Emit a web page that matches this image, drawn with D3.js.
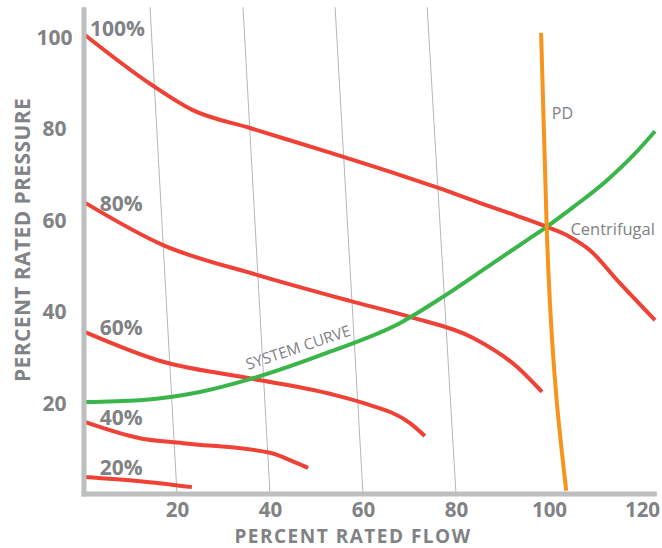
<!DOCTYPE html>
<html>
<head>
  <title>Pump curves</title>
  <script src="https://d3js.org/d3.v7.min.js"></script>
  <style>
    body { margin: 0; background: #fff; }
    text { font-family: "Open Sans", sans-serif; fill: #808285; }
  </style>
</head>
<body>
  <svg width="662" height="548"></svg>
  <script>
  // values (percent rated flow, percent rated pressure)
  var xTicks = [20, 40, 60, 80, 100, 120];
  var yTicks = [20, 40, 60, 80, 100];

  // slanted guide lines: flow at the bottom and at the top of the plot
  var guideBottom = [20, 40, 60, 80];
  var guideTop = [14.2, 34.2, 54, 73.8];

  var speed100 = [[0, 100.5], [14.6, 89.4], [23.4, 83.9], [35.7, 80], [52.9, 74.6], [68, 69.7],
                  [75.9, 67], [85.2, 63.6], [93.1, 60.8], [99.5, 58.4], [104.5, 56.2], [108.8, 53.3],
                  [114.6, 46.8], [122.8, 38]];
  var speed80 = [[0, 63.8], [17, 54.4], [37.2, 47.9], [57.2, 42.2], [70.1, 38.7], [83.7, 34.1],
                 [93.1, 27.8], [98.5, 22.3]];
  var speed60 = [[0, 35.5], [17, 28.9], [35, 25.4], [52.9, 21.9], [60, 19.9], [70.1, 15.5], [73.3, 12.7]];
  var speed40 = [[0, 15.8], [12, 12.2], [21.3, 11.1], [40, 9], [44.3, 7.4], [48.2, 5.7]];
  var speed20 = [[0, 3.7], [12, 2.8], [23.2, 1.5]];

  var systemCurve = [[0, 20.1], [12, 20.5], [24.9, 22.3], [35.7, 25.1], [52.9, 31.1], [68, 37.4],
                     [77.2, 43.1], [86.7, 49.6], [95.3, 55.5], [99.5, 58.4], [105.2, 62.7],
                     [112.5, 68.6], [118.1, 74], [122.8, 79.3]];
  // positive displacement line, listed bottom to top
  var pdCurve = [[103.7, 0.7], [101.7, 19.9], [99.85, 49], [99.5, 58.4], [98.3, 100.8]];

  var speedLabels = ["100%", "80%", "60%", "40%", "20%"];
  var speedLabelAt = [[1.3, 100.1], [3.4, 61.9], [3.4, 34.8], [3.4, 15.1], [3.4, 4.2]];

  var svg = d3.select("svg");

  var x = d3.scaleLinear().domain([0, 120]).range([84, 642]);
  var y = d3.scaleLinear().domain([0, 100]).range([494, 36.5]);

  var line = d3.line()
    .x(function(d) { return x(d[0]); })
    .y(function(d) { return y(d[1]); })
    .curve(d3.curveMonotoneX);

  // slanted guide lines
  svg.selectAll("line.guide")
    .data(guideBottom)
    .enter()
    .append("line")
    .attr("class", "guide")
    .attr("x1", function(d) { return x(d); })
    .attr("y1", y(0))
    .attr("x2", function(d, i) { return x(guideTop[i]); })
    .attr("y2", y(106.4))
    .style("stroke", "#b3b5b8")
    .style("stroke-width", 1);

  // fan speed curves
  var speeds = [speed100, speed80, speed60, speed40, speed20];
  svg.selectAll("path.speed")
    .data(speeds)
    .enter()
    .append("path")
    .attr("class", "speed")
    .attr("d", line)
    .style("fill", "none")
    .style("stroke", "#ef4136")
    .style("stroke-width", 4);

  svg.append("path")
    .attr("d", line(systemCurve))
    .style("fill", "none")
    .style("stroke", "#39b54a")
    .style("stroke-width", 4);

  svg.append("path")
    .attr("d", line.curve(d3.curveMonotoneY)(pdCurve))
    .style("fill", "none")
    .style("stroke", "#f7941d")
    .style("stroke-width", 4);

  // axis lines
  svg.append("line")
    .attr("x1", x(0)).attr("y1", y(106.4))
    .attr("x2", x(0)).attr("y2", y(0) + 2.5)
    .style("stroke", "#bcbec0").style("stroke-width", 5);
  svg.append("line")
    .attr("x1", x(0) - 2.5).attr("y1", y(0))
    .attr("x2", x(123.2)).attr("y2", y(0))
    .style("stroke", "#bcbec0").style("stroke-width", 5);

  // tick labels
  var xAxis = svg.append("g")
    .attr("transform", "translate(0," + y(0) + ")")
    .call(d3.axisBottom(x).tickValues(xTicks).tickSize(0));
  xAxis.select(".domain").remove();
  xAxis.selectAll("text")
    .attr("y", 22.5).attr("dy", 0)
    .style("font-size", "20.5px").style("font-weight", "bold")
    .style("font-family", "'Open Sans', sans-serif").attr("fill", "#808285");

  var yAxis = svg.append("g")
    .attr("transform", "translate(" + x(0) + ",0)")
    .call(d3.axisLeft(y).tickValues(yTicks).tickSize(0));
  yAxis.select(".domain").remove();
  yAxis.selectAll("text")
    .attr("x", -29.5).attr("dy", "0.36em")
    .attr("text-anchor", "middle")
    .style("font-size", "21px").style("font-weight", "bold")
    .style("font-family", "'Open Sans', sans-serif").attr("fill", "#808285");

  // speed labels
  svg.selectAll("text.speed")
    .data(speedLabels)
    .enter()
    .append("text")
    .attr("class", "speed")
    .attr("x", function(d, i) { return x(speedLabelAt[i][0]); })
    .attr("y", function(d, i) { return y(speedLabelAt[i][1]); })
    .style("font-size", "21px")
    .style("font-weight", "bold")
    .text(function(d) { return d; });

  // curve labels
  svg.append("text")
    .attr("x", x(100.6)).attr("y", y(82))
    .style("font-size", "16px")
    .text("PD");
  svg.append("text")
    .attr("x", x(104.6)).attr("y", y(56.6))
    .style("font-size", "16.5px")
    .text("Centrifugal");
  svg.append("text")
    .attr("transform", "translate(248,370) rotate(-18.5)")
    .style("font-size", "15.5px")
    .text("SYSTEM CURVE");

  // axis titles
  svg.append("text")
    .attr("x", 353).attr("y", 542.8)
    .attr("text-anchor", "middle")
    .style("font-size", "19px").style("font-weight", "bold")
    .style("letter-spacing", "1.5px")
    .text("PERCENT RATED FLOW");
  svg.append("text")
    .attr("transform", "translate(30,240) rotate(-90)")
    .attr("text-anchor", "middle")
    .style("font-size", "21px").style("font-weight", "bold")
    .style("letter-spacing", "0.4px")
    .text("PERCENT RATED PRESSURE");
  </script>
</body>
</html>
